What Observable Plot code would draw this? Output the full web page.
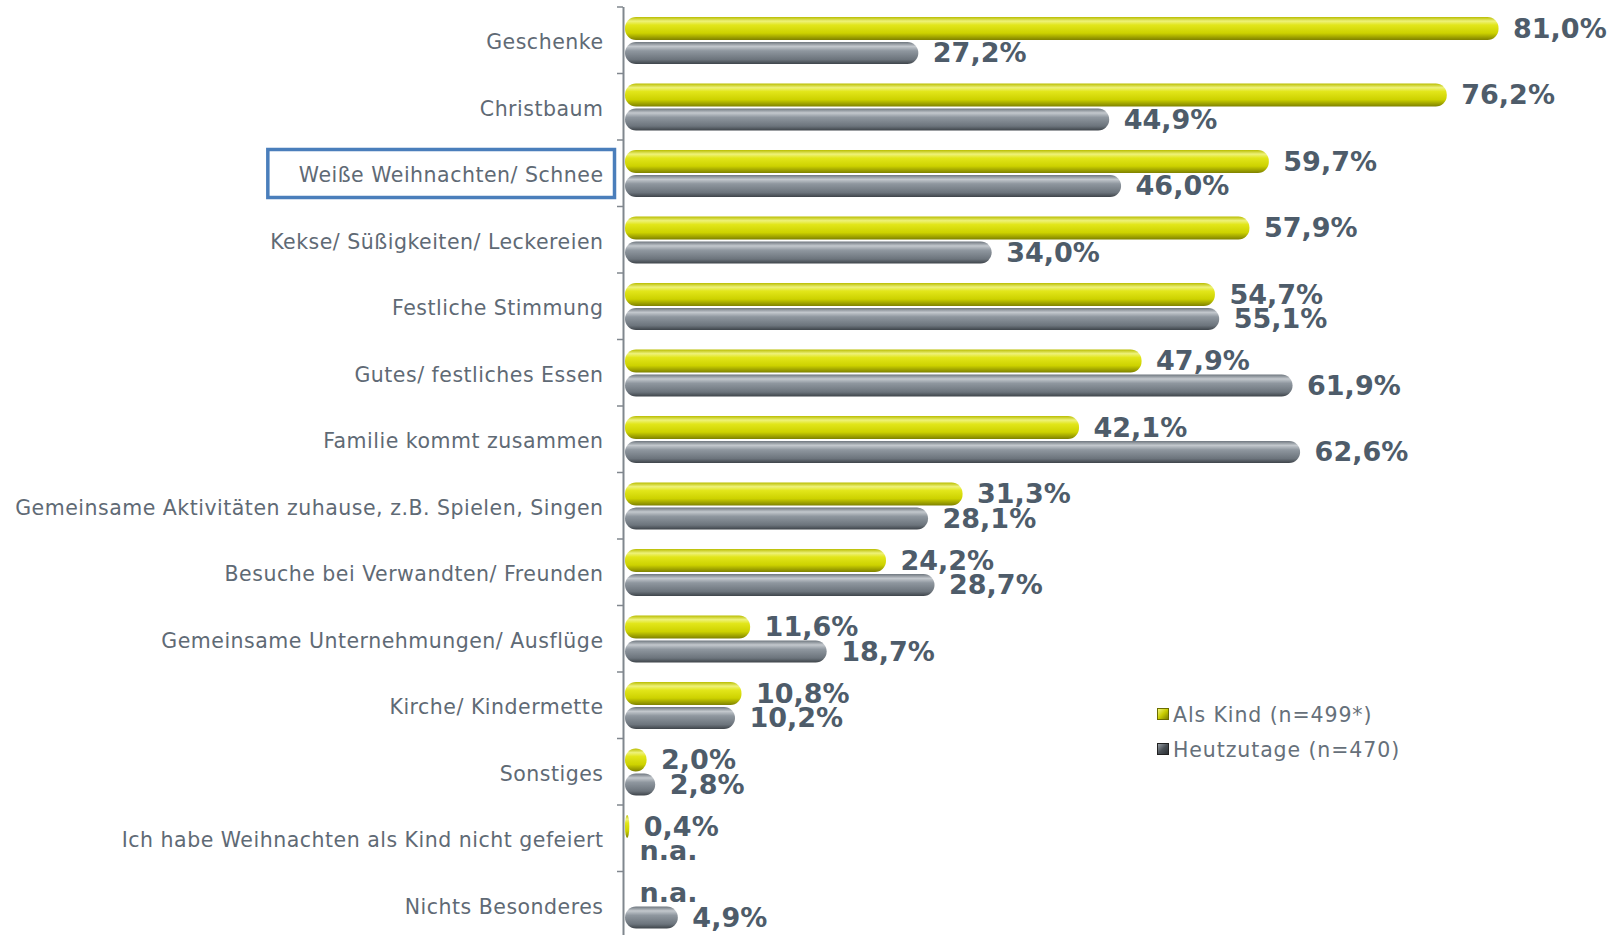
<!DOCTYPE html>
<html>
<head>
<meta charset="utf-8">
<script src="https://cdn.jsdelivr.net/npm/d3@7"></script>
<script src="https://cdn.jsdelivr.net/npm/@observablehq/plot@0.6"></script>
<style>
  html, body { margin: 0; padding: 0; background: #fff; }
  #wrap { position: relative; width: 1615px; height: 935px; overflow: hidden; }
  #legend { position: absolute; left: 1157px; top: 698px; font-family: "DejaVu Sans", Verdana, sans-serif; font-size: 20.5px; letter-spacing: 0.9px; color: #66707a; line-height: 35px; }
  #legend .sw { display: inline-block; width: 10px; height: 10px; margin-right: 4px; vertical-align: 2px; border: 1px solid #333; }
</style>
</head>
<body>
<div id="wrap"></div>
<script>
const categories = [
  "Geschenke",
  "Christbaum",
  "Weiße Weihnachten/ Schnee",
  "Kekse/ Süßigkeiten/ Leckereien",
  "Festliche Stimmung",
  "Gutes/ festliches Essen",
  "Familie kommt zusammen",
  "Gemeinsame Aktivitäten zuhause, z.B. Spielen, Singen",
  "Besuche bei Verwandten/ Freunden",
  "Gemeinsame Unternehmungen/ Ausflüge",
  "Kirche/ Kindermette",
  "Sonstiges",
  "Ich habe Weihnachten als Kind nicht gefeiert",
  "Nichts Besonderes"
];
const alsKind  = [81.0, 76.2, 59.7, 57.9, 54.7, 47.9, 42.1, 31.3, 24.2, 11.6, 10.8, 2.0, 0.4, null];
const heute    = [27.2, 44.9, 46.0, 34.0, 55.1, 61.9, 62.6, 28.1, 28.7, 18.7, 10.2, 2.8, null, 4.9];
const seriesNames = ["Als Kind (n=499*)", "Heutzutage (n=470)"];
const highlighted = "Weiße Weihnachten/ Schnee";

const rows = categories.map((c, i) => ({category: c, kind: alsKind[i], heute: heute[i]}));
const fmt = v => v == null ? "n.a." : v.toFixed(1).replace(".", ",") + "%";

const H = 935, marginTop = 7;
const band = 66.5;
const yTop = 10, yH = 23, gTop = 35, gH = 22;

const labelStyle = {fill: "#4e5c6a", fontWeight: "bold", fontSize: 27, textAnchor: "start", dx: 14, fontFamily: "DejaVu Sans"};

const chart = Plot.plot({
  width: 1615,
  height: H,
  marginLeft: 625,
  marginRight: 0,
  marginTop: marginTop,
  marginBottom: 0,
  style: {fontFamily: "DejaVu Sans, Verdana, sans-serif", fontSize: "20.5px", letterSpacing: "0.5px", color: "#5f6a75", background: "white", overflow: "visible"},
  x: {domain: [0, 91.8], axis: null},
  y: {domain: categories, range: [marginTop, marginTop + band * categories.length], round: false, padding: 0, label: null},
  marks: [
    Plot.axisY({tickSize: 0, tickPadding: 22, dy: 2, label: null}),
    Plot.barX(rows.filter(d => d.kind != null), {x: "kind", y: "category", fill: "url(#gradY)", insetTop: yTop, insetBottom: band - yTop - yH, rx: 11}),
    Plot.barX(rows.filter(d => d.heute != null), {x: "heute", y: "category", fill: "url(#gradG)", insetTop: gTop, insetBottom: band - gTop - gH, rx: 11}),
    Plot.ruleX([0], {dx: -2, stroke: "#80878e", strokeWidth: 2}),
    Plot.text(rows, {x: d => d.kind ?? 0, y: "category", text: d => fmt(d.kind), dy: (yTop + yH / 2) - band / 2, ...labelStyle}),
    Plot.text(rows, {x: d => d.heute ?? 0, y: "category", text: d => fmt(d.heute), dy: (gTop + gH / 2) - band / 2, ...labelStyle})
  ]
});

document.getElementById("wrap").appendChild(chart);

const svg = d3.select(chart);
svg.selectAll("[aria-label='text'] text").style("letter-spacing", "0px");
const defs = svg.insert("defs", ":first-child");
function grad(id, stops) {
  const g = defs.append("linearGradient").attr("id", id).attr("x1", 0).attr("y1", 0).attr("x2", 0).attr("y2", 1);
  stops.forEach(([o, c]) => g.append("stop").attr("offset", o).attr("stop-color", c));
}
grad("gradY", [[0, "#b9bd00"], [0.18, "#eef27a"], [0.35, "#e2e61a"], [0.7, "#cdd200"], [1, "#7e8100"]]);
grad("gradG", [[0, "#6e767e"], [0.2, "#c3c8cd"], [0.4, "#8f979f"], [0.8, "#6c747c"], [1, "#3e444a"]]);

// category boundary ticks on the axis
const ys = chart.scale("y");
const xs = chart.scale("x");
const x0 = xs.apply(0) - 2;
const bounds = categories.map(c => ys.apply(c)).concat([ys.apply(categories[categories.length - 1]) + ys.bandwidth]);
svg.append("g").selectAll("line").data(bounds).join("line")
  .attr("x1", x0 - 6).attr("x2", x0).attr("y1", d => d).attr("y2", d => d)
  .attr("stroke", "#80878e").attr("stroke-width", 1.5);

// highlight box around a category label
const tickTexts = svg.selectAll("[aria-label='y-axis tick label'] text").nodes();
const hi = tickTexts.find(t => t.textContent === highlighted);
if (hi) {
  const bb = hi.getBBox();
  const ctm = hi.getCTM();
  const yb = ys.apply(highlighted);
  svg.append("rect")
    .attr("x", bb.x + ctm.e - 31).attr("y", yb + 9.5)
    .attr("width", bb.width + 42).attr("height", 48)
    .attr("fill", "none").attr("stroke", "#4a7ebb").attr("stroke-width", 3.5);
}

// legend
const legend = document.createElement("div");
legend.id = "legend";
legend.innerHTML =
  `<div><span class="sw" style="background:linear-gradient(135deg,#f0f47a,#c8cc00 50%,#7e8100);border-color:#6b6d00"></span>${seriesNames[0]}</div>` +
  `<div><span class="sw" style="background:linear-gradient(135deg,#9aa1a8,#4a5056 50%,#2a2e32);border-color:#222"></span>${seriesNames[1]}</div>`;
document.getElementById("wrap").appendChild(legend);
</script>
</body>
</html>
